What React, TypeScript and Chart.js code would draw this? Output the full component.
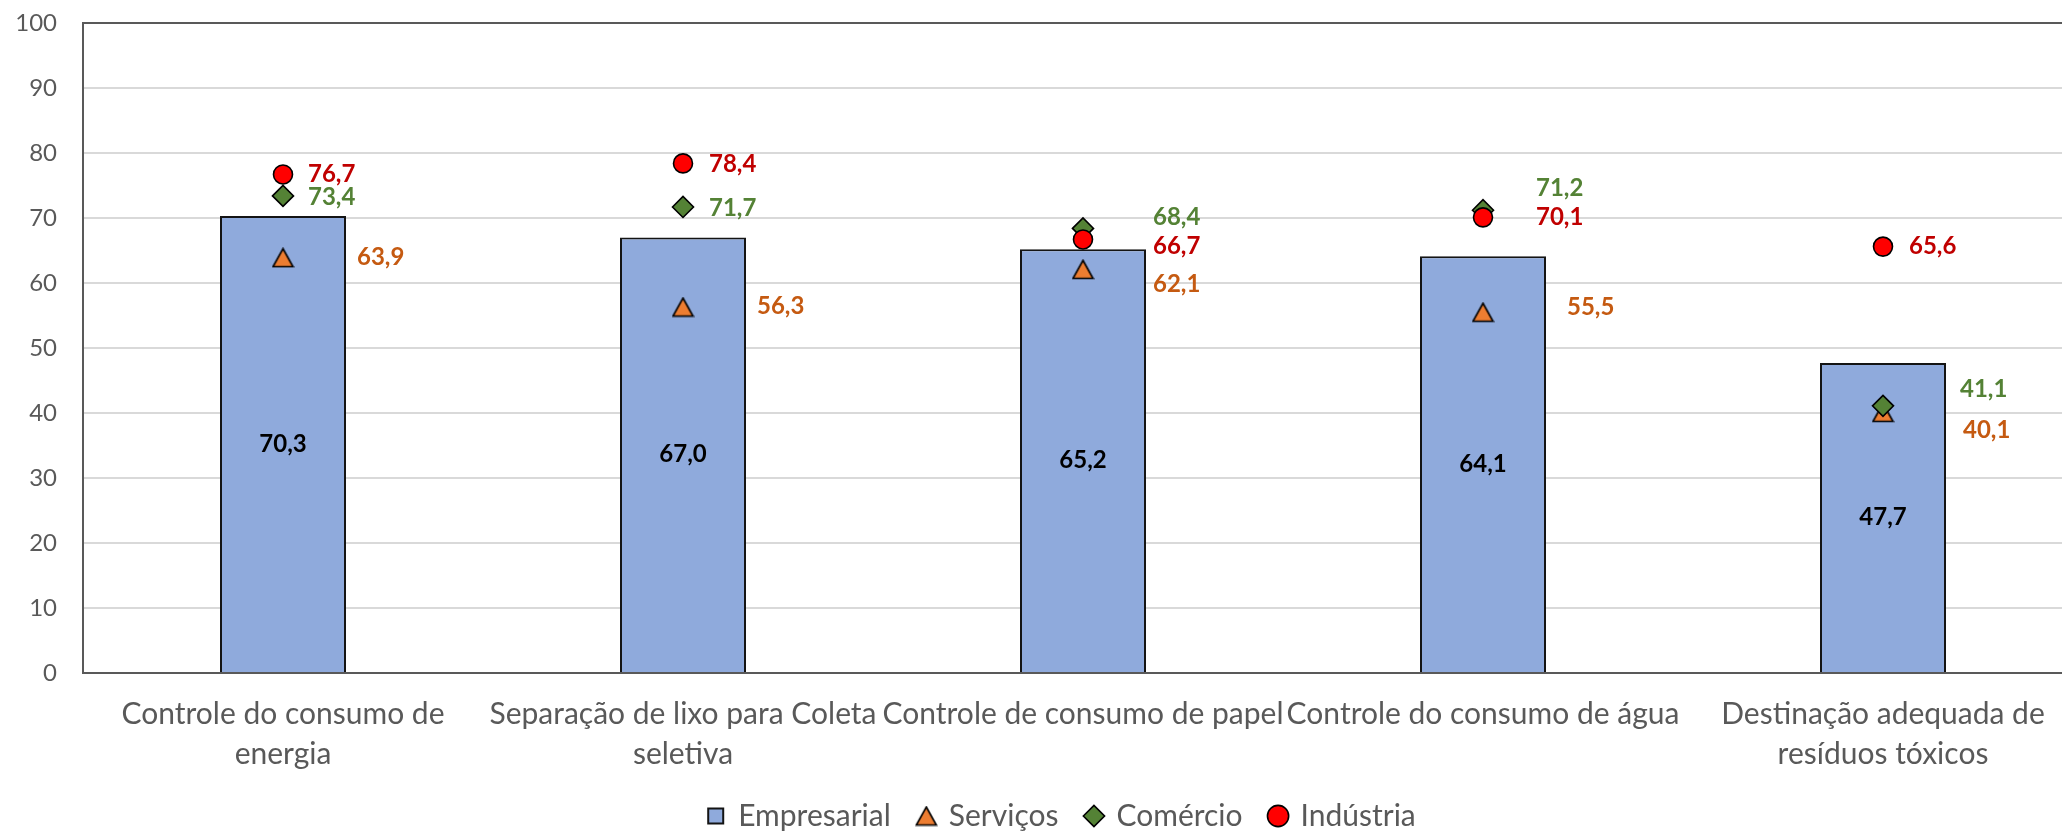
import React, { useEffect, useRef } from 'react';
import { Chart, registerables } from 'chart.js';

Chart.register(...registerables);

// ---- Data ----
const categories: string[][] = [
  ['Controle do consumo de', 'energia'],
  ['Separação de lixo para Coleta', 'seletiva'],
  ['Controle de consumo de papel'],
  ['Controle do consumo de água'],
  ['Destinação adequada de', 'resíduos tóxicos'],
];
const empresarial = [70.3, 67.0, 65.2, 64.1, 47.7];
const servicos = [63.9, 56.3, 62.1, 55.5, 40.1];
const comercio = [73.4, 71.7, 68.4, 71.2, 41.1];
const industria = [76.7, 78.4, 66.7, 70.1, 65.6];
const seriesNames = ['Empresarial', 'Serviços', 'Comércio', 'Indústria'];
const yMin = 0;
const yMax = 100;
const yStep = 10;

// label offsets (px) relative to marker: [dx to text left edge, dy]
const servicosLabelOffsets = [[74, 0], [74, -1], [70, 15], [84, -5], [80, 18]];
const comercioLabelOffsets = [[25, 1], [26, 1], [70, -11], [53, -22], [77, -17]];
const industriaLabelOffsets = [[25, 0], [26, 1], [70, 7], [53, 0], [26, 0]];

const FONT = 'Lato';
const AXIS_COLOR = '#595959';
const LEGEND_CENTER_X = 1062;
const fmt = (v: number) => v.toFixed(1).replace('.', ',');

function makeTriangle(): HTMLCanvasElement {
  const c = document.createElement('canvas');
  c.width = 23;
  c.height = 21;
  const g = c.getContext('2d')!;
  g.beginPath();
  g.moveTo(11.5, 1.5);
  g.lineTo(21.5, 19.5);
  g.lineTo(1.5, 19.5);
  g.closePath();
  g.fillStyle = '#ED7D31';
  g.fill();
  g.lineWidth = 1.6;
  g.strokeStyle = '#000';
  g.lineJoin = 'miter';
  g.stroke();
  return c;
}

export default function App() {
  const ref = useRef<HTMLCanvasElement>(null);

  useEffect(() => {
    document.body.style.margin = '0';
    const tri = makeTriangle();

    const labelPlugin = {
      id: 'valueLabels',
      afterLayout(chart: any) {
        const lg = chart.legend;
        if (lg) {
          const shift = LEGEND_CENTER_X - (lg.left + lg.right) / 2;
          lg.left += shift;
          lg.right += shift;
        }
      },
      afterDatasetsDraw(chart: any) {
        const ctx = chart.ctx as CanvasRenderingContext2D;
        ctx.save();
        ctx.font = `bold 24px ${FONT}`;
        ctx.textBaseline = 'middle';
        // bar labels
        const barMeta = chart.getDatasetMeta(0);
        barMeta.data.forEach((bar: any, i: number) => {
          const p = bar.getProps(['x', 'y', 'base'], true);
          ctx.textAlign = 'center';
          ctx.fillStyle = '#000000';
          ctx.fillText(fmt(empresarial[i]), p.x, (p.y + p.base) / 2);
        });
        const specs: [number, number[], string, number[][]][] = [
          [1, servicos, '#C55A11', servicosLabelOffsets],
          [2, comercio, '#548235', comercioLabelOffsets],
          [3, industria, '#C00000', industriaLabelOffsets],
        ];
        ctx.textAlign = 'left';
        specs.forEach(([idx, vals, color, offs]) => {
          const meta = chart.getDatasetMeta(idx);
          meta.data.forEach((pt: any, i: number) => {
            const p = pt.getProps(['x', 'y'], true);
            ctx.fillStyle = color;
            ctx.fillText(fmt(vals[i]), p.x + offs[i][0], p.y + offs[i][1]);
          });
        });
        ctx.restore();
      },
      afterDraw(chart: any) {
        const { ctx, chartArea } = chart;
        ctx.save();
        ctx.strokeStyle = AXIS_COLOR;
        ctx.lineWidth = 2;
        ctx.beginPath();
        ctx.moveTo(chartArea.left - 1, chartArea.top);
        ctx.lineTo(chartArea.right, chartArea.top);
        ctx.stroke();
        ctx.restore();
      },
    };

    const pointCommon = {
      type: 'line' as const,
      showLine: false,
      pointBorderColor: '#000000',
      pointBorderWidth: 1.6,
      pointHoverRadius: 10,
    };

    const chart = new Chart(ref.current!, {
      type: 'bar',
      data: {
        labels: categories,
        datasets: [
          {
            type: 'bar',
            label: seriesNames[0],
            data: empresarial,
            backgroundColor: '#8FAADC',
            borderColor: '#141414',
            borderWidth: 2,
            barPercentage: 0.315,
            categoryPercentage: 1,
            pointStyle: 'rect',
            order: 4,
          } as any,
          {
            ...pointCommon,
            label: seriesNames[1],
            data: servicos,
            pointStyle: tri,
            backgroundColor: '#ED7D31',
            borderColor: '#000000',
            order: 3,
          } as any,
          {
            ...pointCommon,
            label: seriesNames[2],
            data: comercio,
            pointStyle: 'rectRot',
            pointRadius: 10.5,
            backgroundColor: '#548235',
            pointBackgroundColor: '#548235',
            borderColor: '#000000',
            order: 2,
          } as any,
          {
            ...pointCommon,
            label: seriesNames[3],
            data: industria,
            pointStyle: 'circle',
            pointRadius: 9.5,
            backgroundColor: '#FF0000',
            pointBackgroundColor: '#FF0000',
            borderColor: '#000000',
            order: 1,
          } as any,
        ],
      },
      options: {
        responsive: false,
        animation: false,
        layout: { padding: { left: 13, right: 17, top: 23, bottom: 0 } },
        plugins: {
          tooltip: { enabled: false },
          legend: {
            position: 'bottom',
            labels: {
              usePointStyle: true,
              boxWidth: 15,
              boxHeight: 15,
              padding: 28,
              color: AXIS_COLOR,
              font: { family: FONT, size: 30 },
              sort: (a: any, b: any) => a.datasetIndex - b.datasetIndex,
            },
          },
        },
        scales: {
          x: {
            grid: { display: false, drawTicks: false },
            border: { display: true, color: AXIS_COLOR, width: 2 },
            ticks: {
              color: AXIS_COLOR,
              font: { family: FONT, size: 30, lineHeight: 1.32 },
              padding: 22,
              maxRotation: 0,
              autoSkip: false,
            },
            afterFit: (s: any) => {
              s.height = 100;
            },
          },
          y: {
            min: yMin,
            max: yMax,
            grid: { color: '#D9D9D9', lineWidth: 2, drawTicks: false },
            border: { display: true, color: AXIS_COLOR, width: 2 },
            ticks: {
              stepSize: yStep,
              color: AXIS_COLOR,
              font: { family: FONT, size: 24 },
              padding: 26,
            },
            afterFit: (s: any) => {
              s.width = 70;
              s.paddingTop = 0;
              s.paddingBottom = 0;
            },
          },
        },
      },
      plugins: [labelPlugin],
    });
    return () => chart.destroy();
  }, []);

  return (
    <div style={{ width: 2062, height: 832, overflow: 'hidden' }}>
      <canvas ref={ref} width={2100} height={841} style={{ display: 'block' }} />
    </div>
  );
}
